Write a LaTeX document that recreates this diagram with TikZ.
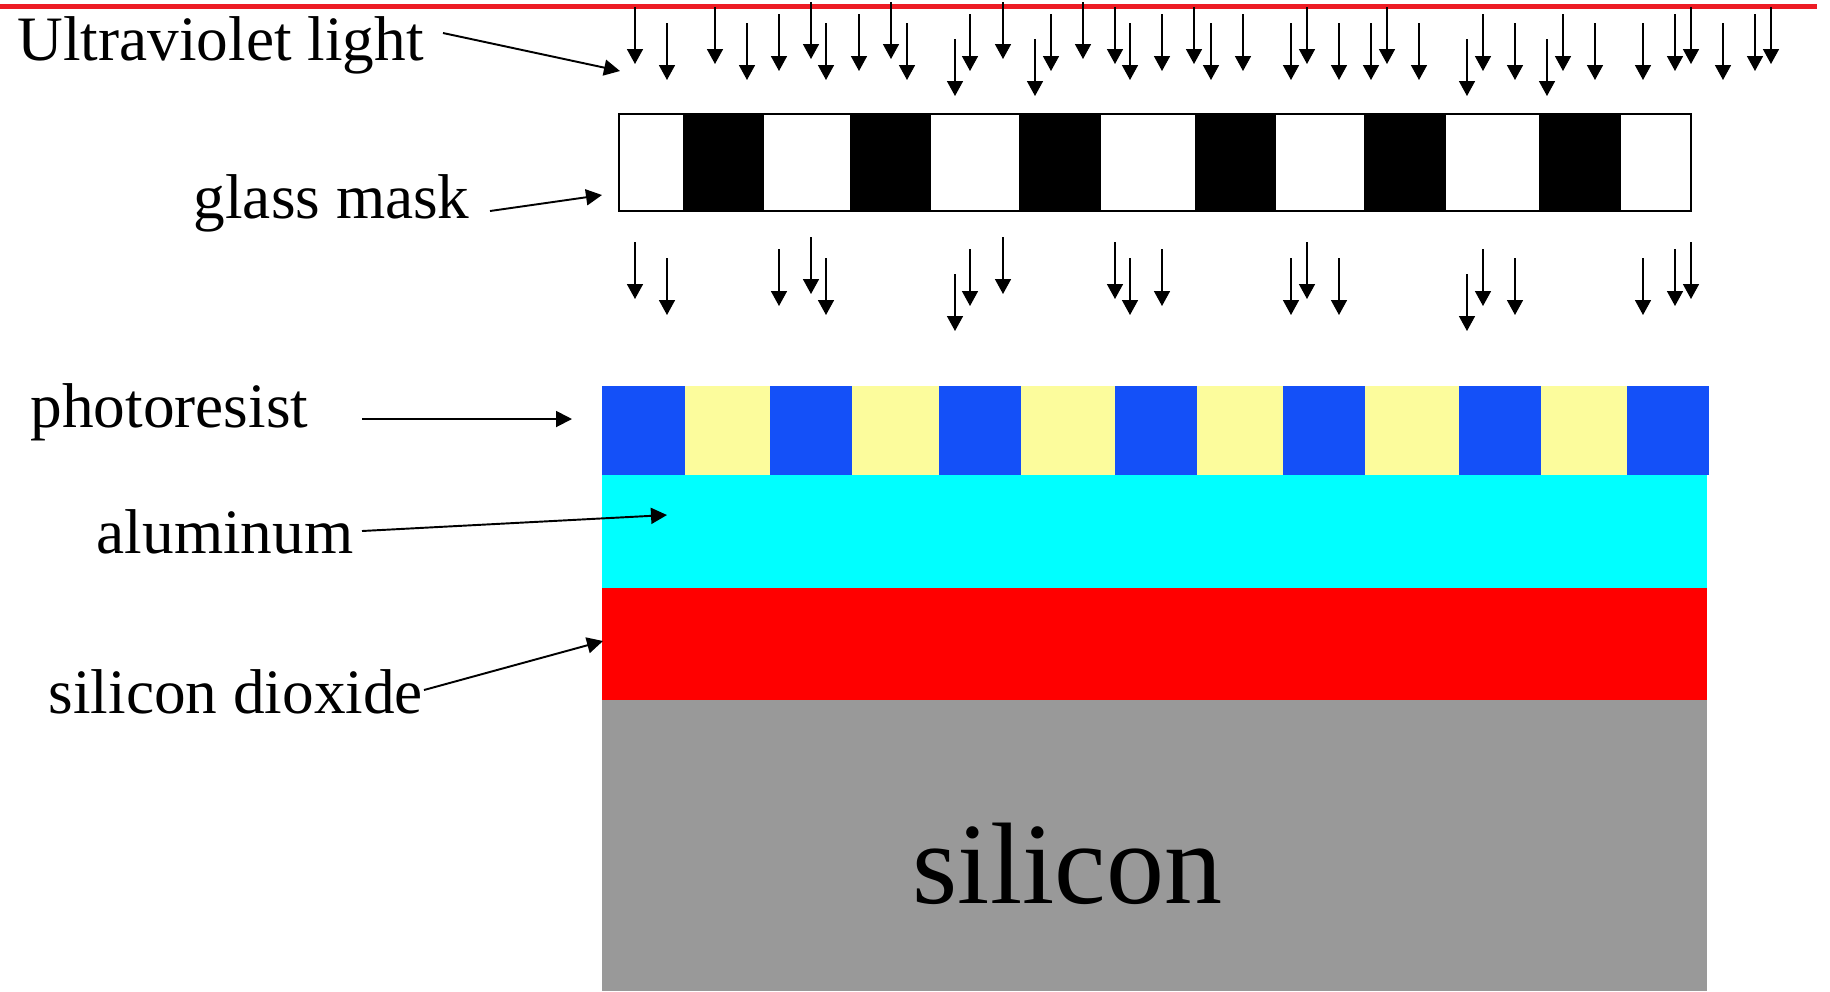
\documentclass[tikz,border=0pt]{standalone}
\usepackage{fontspec}
\setmainfont{Liberation Serif}
\usetikzlibrary{arrows.meta}
\definecolor{uvred}{HTML}{ED1C24}
\definecolor{resexp}{HTML}{1450F8}
\definecolor{resunexp}{HTML}{FCFC9C}
\definecolor{alu}{HTML}{00FFFF}
\definecolor{oxide}{HTML}{FF0000}
\definecolor{substr}{HTML}{999999}

\begin{document}
\begin{tikzpicture}[x=0.1mm, y=-0.1mm,
  lbl/.style={font=\fontsize{18}{20}\selectfont, inner sep=0pt, anchor=base west},
  uvray/.style={-{Triangle[length=1.5mm, width=1.6mm]}, line width=0.45pt},
  ptr/.style={-{Triangle[length=1.6mm, width=1.6mm]}, line width=0.55pt}]
\useasboundingbox (0,0) rectangle (1830,991);
% lamp edge
\draw[uvred, line width=1.6pt] (0,6.5) -- (1817,6.5);
% incoming light
\foreach \x/\t in {635/7, 667/23, 715/7, 747/23, 779/14, 811/2, 826/23, 859/14,
  891/2, 907/23, 955/39, 970/14, 1003/2, 1035/39, 1051/14, 1083/2, 1115/7,
  1130/23, 1162/14, 1194/7, 1211/23, 1243/14, 1291/23, 1307/7, 1339/23,
  1371/23, 1387/7, 1419/23, 1467/39, 1483/14, 1515/23, 1547/39, 1563/14,
  1595/23, 1643/23, 1675/14, 1691/7, 1723/23, 1755/14, 1771/7}
  \draw[uvray] (\x,\t) -- (\x,\t+57);
% mask
\fill[white] (619,114) rectangle (1691,211);
\foreach \a/\b in {683/764, 850/931, 1019/1101, 1195/1276, 1364/1446, 1539/1621}
  \fill[black] (\a,114) rectangle (\b,211);
\draw[line width=0.6pt] (619,114) rectangle (1691,211);
% light passing the clear parts
\foreach \x/\t in {635/7, 667/23, 779/14, 811/2, 826/23, 955/39, 970/14, 1003/2,
  1115/7, 1130/23, 1162/14, 1291/23, 1307/7, 1339/23, 1467/39, 1483/14,
  1515/23, 1643/23, 1675/14, 1691/7}
  \draw[uvray] (\x,\t+235) -- (\x,\t+292);
% wafer stack
\fill[substr] (602,700) rectangle (1707,991);
\fill[oxide] (602,588) rectangle (1707,700);
\fill[alu] (602,475) rectangle (1707,588);
\fill[resunexp] (602,386) rectangle (1709,475);
\foreach \a/\b in {602/685, 770/852, 939/1021, 1115/1197, 1283/1365, 1459/1541, 1627/1709}
  \fill[resexp] (\a,386) rectangle (\b,475);
% labels
\node[lbl] (uv) at (17,60) {Ultraviolet light};
\node[lbl] (masklbl) at (193,218) {glass mask};
\node[lbl] (pr) at (30,427) {photoresist};
\node[lbl] (al) at (96,553) {aluminum};
\node[lbl] (ox) at (48,713) {silicon dioxide};
\node[font=\fontsize{33}{38}\selectfont, inner sep=0pt, anchor=base west] (si) at (912,903) {silicon};
% pointers
\coordinate (uvtail) at (443,33);   \coordinate (uvtip) at (620,71);
\coordinate (mtail) at (490,211);   \coordinate (mtip) at (602,195);
\coordinate (prtail) at (362,419);  \coordinate (prtip) at (572,419);
\coordinate (altail) at (362,531);  \coordinate (altip) at (667,515);
\coordinate (oxtail) at (424,690);  \coordinate (oxtip) at (603,641);
\draw[ptr] (uvtail) -- (uvtip);
\draw[ptr] (mtail) -- (mtip);
\draw[ptr] (prtail) -- (prtip);
\draw[ptr] (altail) -- (altip);
\draw[ptr] (oxtail) -- (oxtip);
\end{tikzpicture}
\end{document}
